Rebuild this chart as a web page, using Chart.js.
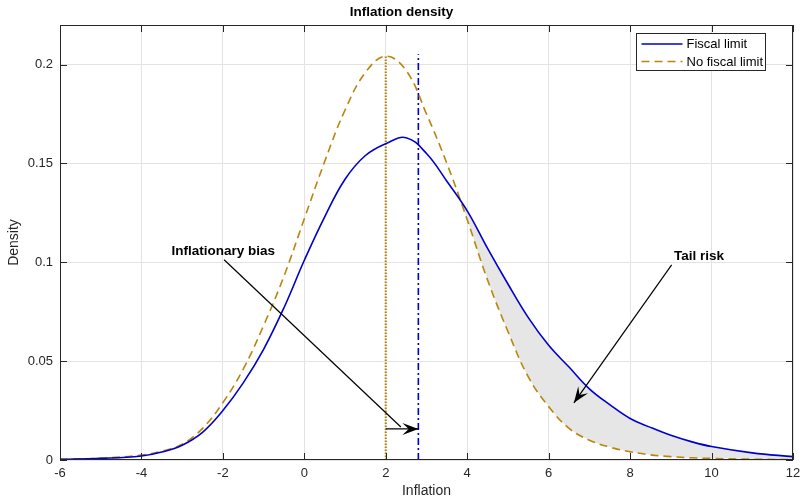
<!DOCTYPE html>
<html lang="en">
<head>
  <meta charset="UTF-8" />
  <title>Inflation density</title>
  <script src="https://cdn.jsdelivr.net/npm/chart.js"></script>
  <style>
    html, body { margin: 0; padding: 0; background: #fff; }
    #chart { display: block; }
  </style>
</head>
<body>
<canvas id="chart" width="803" height="501"></canvas>
<script>
  // inflation grid and the two densities
  const inflation = [-6, -5, -4, -3.5, -3, -2.5, -2, -1.5, -1, -0.5, 0, 0.5, 1, 1.5, 2, 2.5, 3, 3.5,
                     4, 4.5, 5, 5.5, 6, 6.5, 7, 7.5, 8, 8.5, 9, 9.5, 10, 11, 12];
  const fiscalLimit = [0.0003, 0.0008, 0.002, 0.004, 0.0075, 0.014, 0.025, 0.039, 0.056, 0.077, 0.101, 0.123,
                       0.142, 0.154, 0.160, 0.163, 0.155, 0.141, 0.126, 0.107, 0.089, 0.072, 0.058, 0.047,
                       0.036, 0.028, 0.021, 0.0165, 0.0125, 0.0093, 0.0068, 0.0036, 0.0017];
  const noFiscalLimit = [0.0003, 0.0009, 0.0025, 0.0045, 0.008, 0.016, 0.029, 0.046, 0.068, 0.093, 0.122, 0.151,
                         0.177, 0.196, 0.2042, 0.197, 0.175, 0.150, 0.1215, 0.091, 0.065, 0.042, 0.027, 0.016,
                         0.010, 0.0065, 0.0042, 0.0026, 0.0017, 0.0011, 0.0008, 0.0004, 0.0002];

  // vertical markers
  const targetInflation = 2;      // no fiscal limit mean
  const targetTop = 0.2042;
  const meanFiscal = 2.8;         // fiscal limit mean
  const meanTop = 0.2052;

  const xTicks = [-6, -4, -2, 0, 2, 4, 6, 8, 10, 12];
  const xTickLabels = ['-6', '-4', '-2', '0', '2', '4', '6', '8', '10', '12'];
  const yTicks = [0, 0.05, 0.1, 0.15, 0.2];
  const yTickLabels = ['0', '0.05', '0.1', '0.15', '0.2'];

  const BLUE = '#0000CC';
  const GOLD = '#B8860B';
  const INK = '#262626';
  const FONT = '"Liberation Sans", Arial, sans-serif';

  // annotations in data units
  const notes = [
    { text: 'Inflationary bias', at: [-1.99, 0.1056], from: [-1.97, 0.1013], to: [2.37, 0.0167], head: false },
    { from: [targetInflation, 0.0157], to: [meanFiscal, 0.0157], head: true },
    { text: 'Tail risk', at: [9.69, 0.1031], from: [9.02, 0.0987], to: [6.62, 0.0289], head: true }
  ];

  const pts = ys => inflation.map((x, i) => ({ x: x, y: ys[i] }));

  function arrowHead(ctx, x1, y1, x2, y2) {
    const a = Math.atan2(y2 - y1, x2 - x1);
    const len = 16, half = 6;
    ctx.save();
    ctx.translate(x2, y2);
    ctx.rotate(a);
    ctx.beginPath();
    ctx.moveTo(0, 0);
    ctx.lineTo(-len, -half);
    ctx.lineTo(-len * 0.6, 0);
    ctx.lineTo(-len, half);
    ctx.closePath();
    ctx.fillStyle = '#000';
    ctx.fill();
    ctx.restore();
  }

  const boxPlugin = {
    id: 'box',
    afterDatasetsDraw(chart) {
      const { ctx, chartArea: a, scales } = chart;
      ctx.save();
      ctx.strokeStyle = INK;
      ctx.lineWidth = 1;
      ctx.strokeRect(a.left + 0.5, a.top + 0.5, a.right - a.left - 1, a.bottom - a.top - 1);
      ctx.beginPath();
      xTicks.forEach(v => {
        const x = Math.round(scales.x.getPixelForValue(v)) + 0.5;
        ctx.moveTo(x, a.bottom); ctx.lineTo(x, a.bottom - 7);
        ctx.moveTo(x, a.top); ctx.lineTo(x, a.top + 7);
      });
      yTicks.forEach(v => {
        const y = Math.round(scales.y.getPixelForValue(v)) + 0.5;
        ctx.moveTo(a.left, y); ctx.lineTo(a.left + 7, y);
        ctx.moveTo(a.right, y); ctx.lineTo(a.right - 7, y);
      });
      ctx.stroke();
      ctx.restore();
    },
    afterDraw(chart) {
      const { ctx, scales } = chart;
      const px = p => [scales.x.getPixelForValue(p[0]), scales.y.getPixelForValue(p[1])];
      ctx.save();
      // annotations
      notes.forEach(n => {
        const [x1, y1] = px(n.from);
        const [x2, y2] = px(n.to);
        ctx.strokeStyle = '#000';
        ctx.lineWidth = 1.2;
        ctx.beginPath();
        ctx.moveTo(x1, y1);
        ctx.lineTo(x2, y2);
        ctx.stroke();
        if (n.head) arrowHead(ctx, x1, y1, x2, y2);
        if (n.text) {
          const [tx, ty] = px(n.at);
          ctx.fillStyle = '#000';
          ctx.font = 'bold 13.5px ' + FONT;
          ctx.textAlign = 'center';
          ctx.textBaseline = 'middle';
          ctx.fillText(n.text, tx, ty);
        }
      });
      // legend box
      const items = chart.data.datasets.filter(d => d.label);
      const bx = 636.5, by = 33.5, bw = 129, bh = 37;
      ctx.fillStyle = '#fff';
      ctx.fillRect(bx, by, bw, bh);
      ctx.strokeStyle = INK;
      ctx.lineWidth = 1;
      ctx.strokeRect(bx, by, bw, bh);
      ctx.font = '13px ' + FONT;
      ctx.textAlign = 'left';
      ctx.textBaseline = 'middle';
      items.forEach((d, i) => {
        const y = by + 10.5 + i * 17.5;
        ctx.save();
        ctx.strokeStyle = d.borderColor;
        ctx.lineWidth = d.borderWidth;
        ctx.setLineDash(d.borderDash || []);
        ctx.beginPath();
        ctx.moveTo(bx + 5, y);
        ctx.lineTo(bx + 46, y);
        ctx.stroke();
        ctx.restore();
        ctx.fillStyle = '#000';
        ctx.fillText(d.label, bx + 50, y + 0.5);
      });
      ctx.restore();
    }
  };

  new Chart(document.getElementById('chart'), {
    type: 'line',
    data: {
      datasets: [
        {
          label: 'Fiscal limit',
          data: pts(fiscalLimit),
          borderColor: BLUE,
          borderWidth: 1.6,
          pointRadius: 0,
          tension: 0.4,
          fill: { target: 1, above: '#E6E6E6', below: 'rgba(0,0,0,0)' }
        },
        {
          label: 'No fiscal limit',
          data: pts(noFiscalLimit),
          borderColor: GOLD,
          borderWidth: 1.6,
          borderDash: [8, 5],
          pointRadius: 0,
          tension: 0.4,
          fill: false
        },
        {
          data: [{ x: targetInflation, y: 0 }, { x: targetInflation, y: targetTop }],
          borderColor: GOLD,
          borderWidth: 2.2,
          borderDash: [1.5, 1.5],
          pointRadius: 0,
          fill: false
        },
        {
          data: [{ x: meanFiscal, y: 0 }, { x: meanFiscal, y: meanTop }],
          borderColor: BLUE,
          borderWidth: 1.6,
          borderDash: [7, 3, 2, 3],
          pointRadius: 0,
          fill: false
        }
      ]
    },
    options: {
      responsive: false,
      animation: false,
      layout: { padding: 0 },
      plugins: {
        legend: { display: false },
        tooltip: { enabled: false },
        filler: { drawTime: 'beforeDatasetsDraw' },
        title: {
          display: true,
          text: 'Inflation density',
          color: '#000',
          font: { family: FONT, size: 13.5, weight: 'bold' },
          padding: { top: 4, bottom: 4.8 }
        }
      },
      scales: {
        x: {
          type: 'linear',
          min: -6,
          max: 12,
          afterBuildTicks: s => { s.ticks = xTicks.map(v => ({ value: v })); },
          afterFit: s => { s.height = 41; s.paddingLeft = 0; s.paddingRight = 10; },
          ticks: {
            color: INK,
            font: { family: FONT, size: 13 },
            padding: 6,
            maxRotation: 0,
            callback: (v, i) => xTickLabels[i]
          },
          grid: { color: '#E3E3E3', drawTicks: false },
          border: { display: false },
          title: {
            display: true,
            text: 'Inflation',
            color: INK,
            font: { family: FONT, size: 14 },
            padding: { top: 0, bottom: 1 }
          }
        },
        y: {
          min: 0,
          max: 0.22,
          afterBuildTicks: s => { s.ticks = yTicks.map(v => ({ value: v })); },
          afterFit: s => { s.width = 60; s.paddingTop = 0; s.paddingBottom = 0; },
          ticks: {
            color: INK,
            font: { family: FONT, size: 13 },
            padding: 7,
            callback: (v, i) => yTickLabels[i]
          },
          grid: { color: '#E3E3E3', drawTicks: false },
          border: { display: false },
          title: {
            display: true,
            text: 'Density',
            color: INK,
            font: { family: FONT, size: 14 },
            padding: { top: 6, bottom: 0 }
          }
        }
      }
    },
    plugins: [boxPlugin]
  });
</script>
</body>
</html>
